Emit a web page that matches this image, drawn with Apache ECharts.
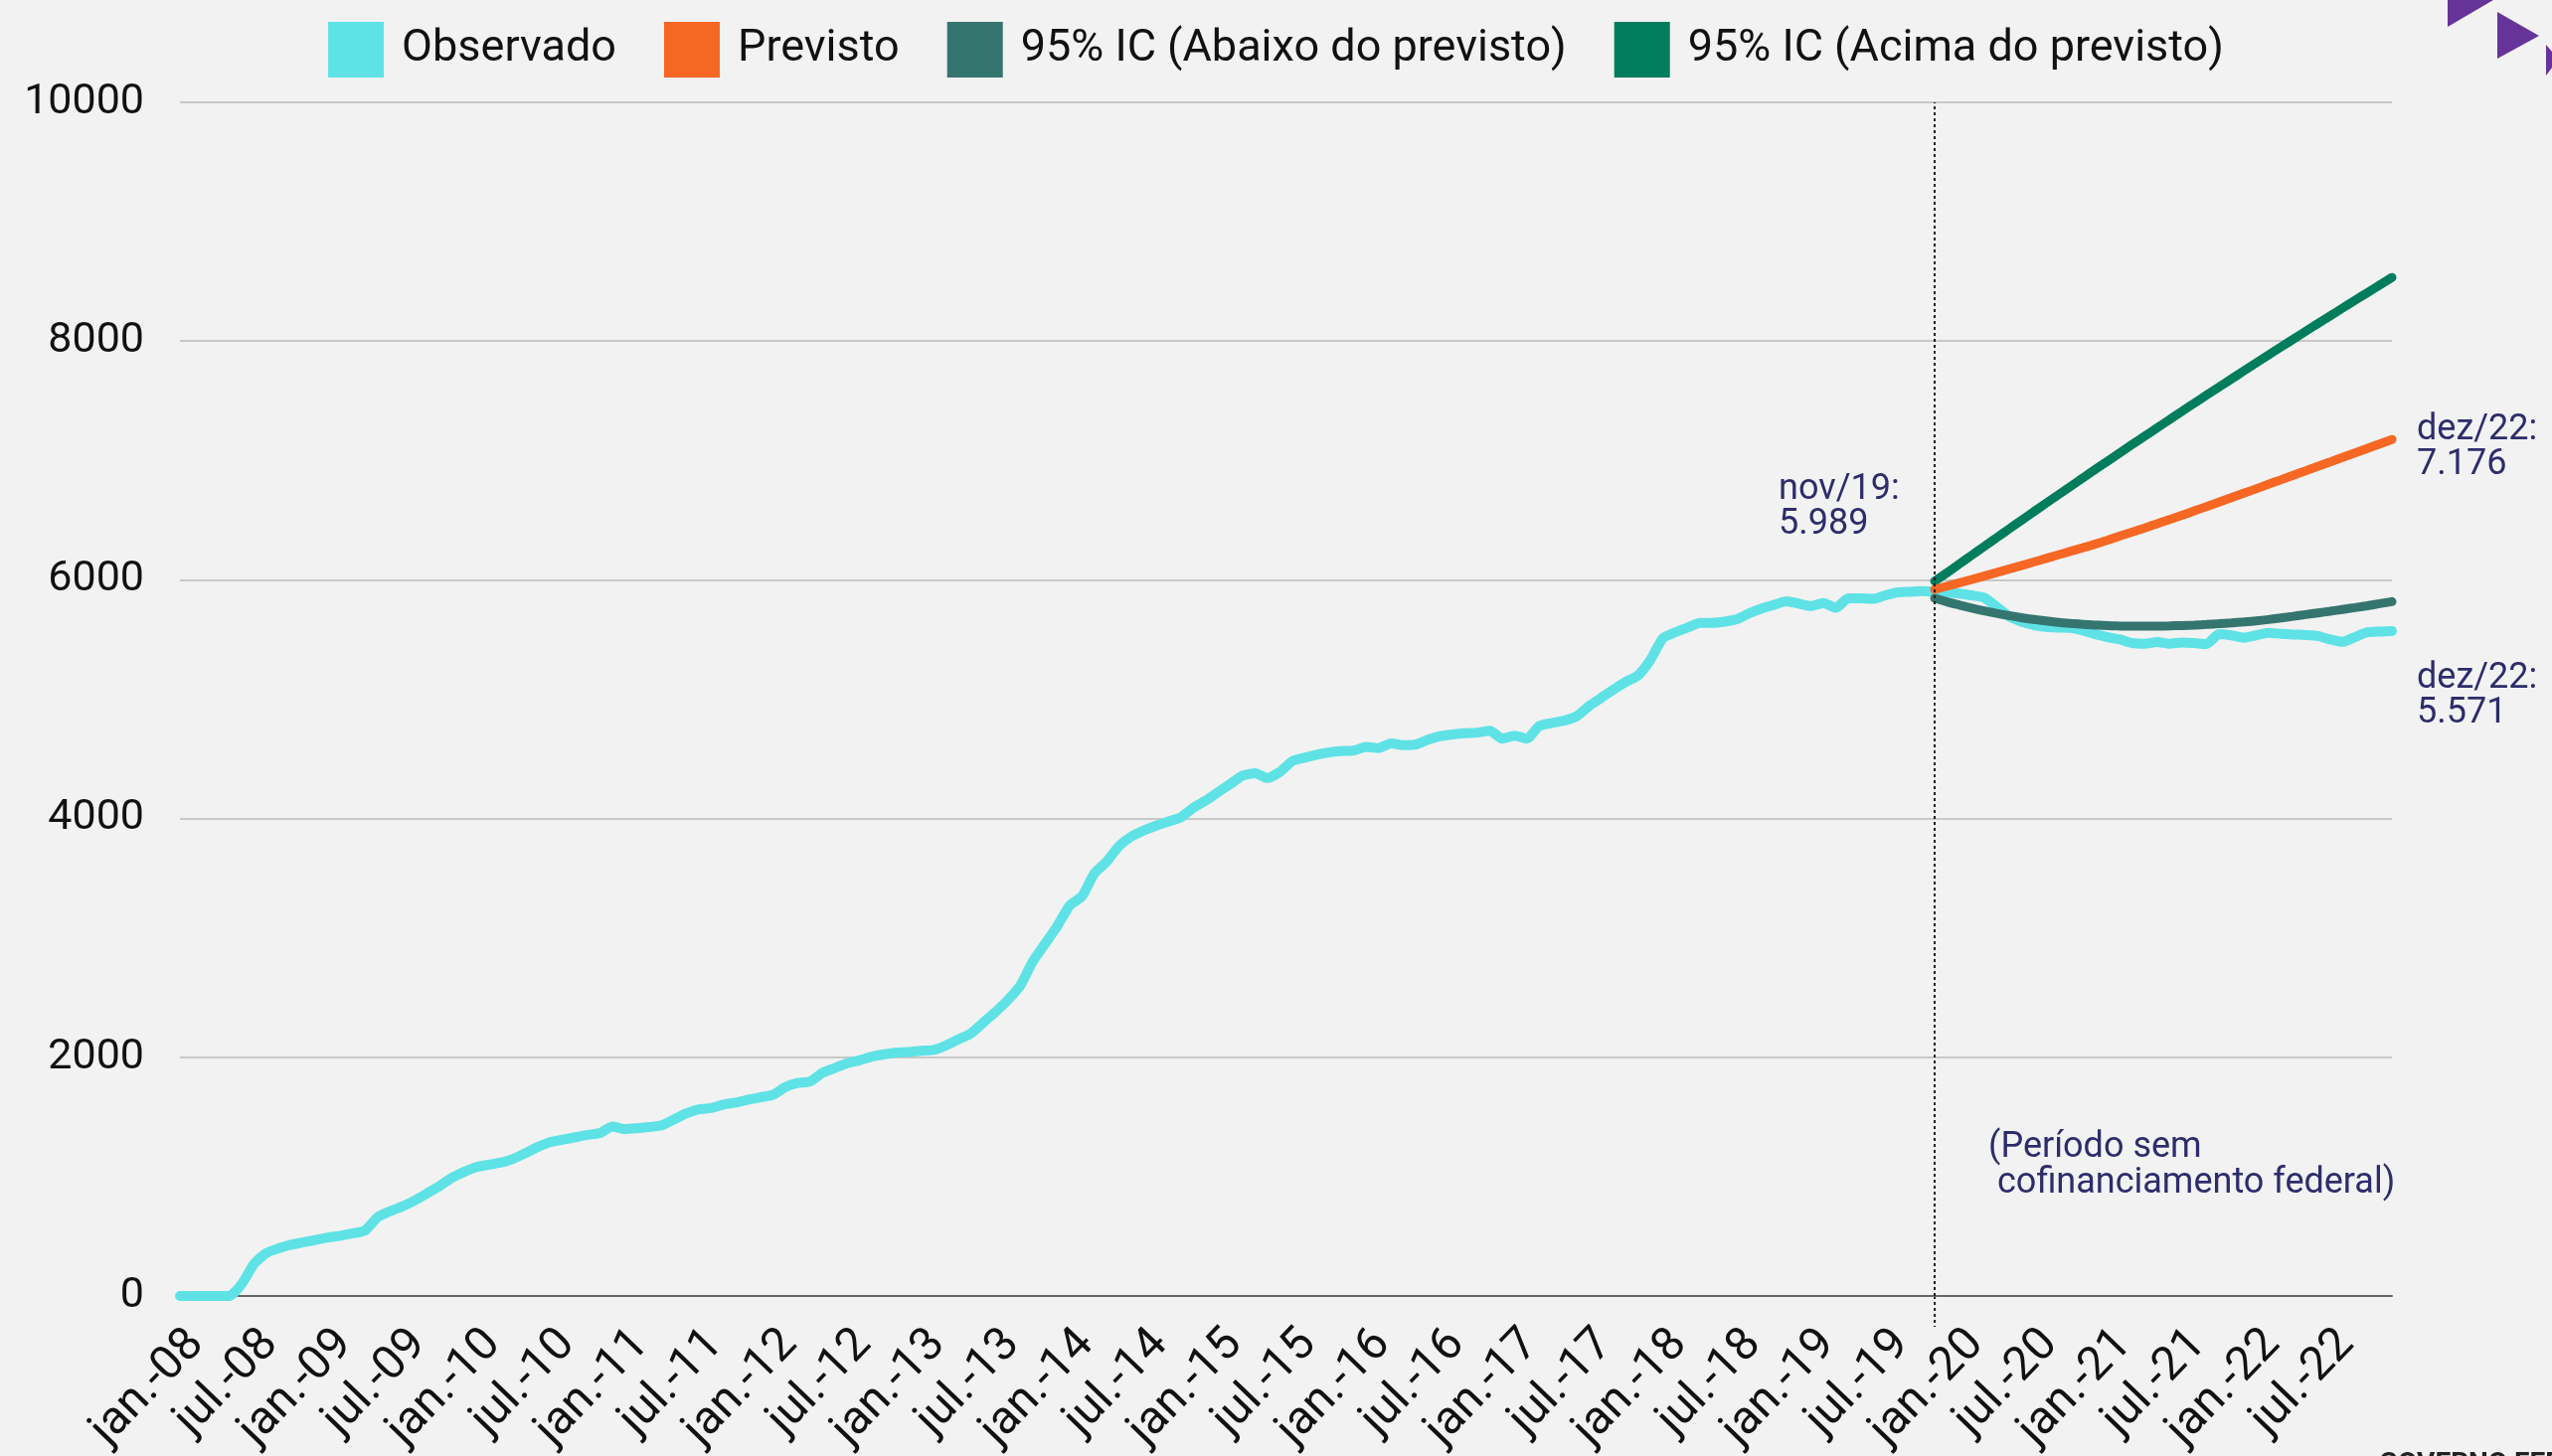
<!DOCTYPE html>
<html>
<head>
<meta charset="utf-8">
<script src="https://cdn.jsdelivr.net/npm/echarts@6/dist/echarts.min.js"></script>
<style>
html,body{margin:0;padding:0;background:#f2f2f2;}
#chart{width:2567px;height:1465px;}
</style>
</head>
<body>
<div id="chart"></div>
<script>
// ---- DATA ----
const monthNames = ['jan.','fev.','mar.','abr.','mai.','jun.','jul.','ago.','set.','out.','nov.','dez.'];
const yearLabels = ['08','09','10','11','12','13','14','15','16','17','18','19','20','21','22'];

const observado = [
  0,0,0,0,0,100,270,360,400,430,450,470,
  490,505,525,550,660,710,750,800,860,920,990,1040,
  1080,1100,1118,1150,1200,1250,1290,1310,1330,1350,1365,1420,
  1398,1405,1415,1430,1480,1530,1565,1575,1604,1620,1645,1665,
  1685,1750,1784,1798,1870,1910,1950,1975,2005,2025,2040,2045,
  2055,2062,2100,2150,2200,2290,2380,2480,2600,2800,2950,3100,
  3270,3350,3540,3640,3770,3850,3900,3940,3975,4010,4090,4150,
  4220,4290,4360,4380,4340,4390,4480,4510,4535,4555,4565,4570,
  4600,4590,4630,4615,4620,4660,4690,4705,4715,4720,4735,4670,
  4695,4670,4775,4800,4820,4855,4940,5010,5080,5145,5200,5330,
  5510,5560,5600,5640,5640,5650,5670,5720,5760,5790,5820,5800,
  5780,5806,5765,5845,5845,5840,5870,5895,5900,5905,5900,5892,
  5885,5870,5850,5775,5695,5650,5622,5606,5600,5597,5575,5545,
  5520,5500,5470,5465,5478,5465,5475,5470,5462,5545,5535,5515,
  5535,5556,5548,5542,5538,5530,5500,5480,5520,5560,5567,5571
];

// forecast series start at nov.-19 (index 142)
const forecastStart = 142;
const previsto = [5920,5947,5975,6003,6032,6061,6090,6119,6149,6179,6209,6239,6269,6300,6333,6367,6401,6435,6470,6505,6540,6577,6614,6651,6688,6725,6762,6800,6837,6875,6912,6950,6987,7025,7063,7100,7138,7176];
const icAcima = [5989,6059,6133,6206,6279,6352,6425,6497,6569,6641,6712,6783,6854,6925,6995,7065,7135,7204,7273,7342,7411,7479,7547,7615,7682,7749,7816,7883,7949,8015,8081,8146,8211,8276,8341,8405,8469,8533];
const icAbaixo = [5845,5815,5788,5763,5740,5719,5700,5683,5668,5655,5644,5635,5627,5621,5616,5613,5611,5611,5612,5614,5617,5621,5626,5632,5639,5647,5656,5667,5680,5694,5709,5723,5737,5752,5767,5783,5800,5817];

const seriesNames = ['Observado','Previsto','95% IC (Abaixo do previsto)','95% IC (Acima do previsto)'];
const yTicks = {min:0, max:10000, interval:2000};

// ---- BUILD ----
const categories = [];
yearLabels.forEach(y => monthNames.forEach(m => categories.push(m + '-' + y)));
function pad(arr){ const out = new Array(forecastStart).fill(null); return out.concat(arr); }
function fmtBR(v){ return String(v).replace(/\B(?=(\d{3})+(?!\d))/g,'.'); }

const FONT = 'Roboto';
const NAVY = '#2d2d6b';
const C_OBS = '#5ee2e6', C_PREV = '#f56723', C_LOW = '#357570', C_UP = '#007d5c';

const chart = echarts.init(document.getElementById('chart'), null, {renderer:'canvas'});
const option = {
  backgroundColor: '#f2f2f2',
  animation: false,
  textStyle: {fontFamily: FONT},
  legend: {
    data: seriesNames,
    top: 17, left: 'center',
    itemWidth: 56, itemHeight: 56, itemGap: 48,
    icon: 'rect',
    textStyle: {fontFamily: FONT, fontSize: 45, color: '#111', padding: [0,0,0,13]}
  },
  grid: {left: 181, right: 161, top: 103, bottom: 161, containLabel: false, outerBoundsMode: 'none'},
  xAxis: {
    type: 'category', data: categories, boundaryGap: false,
    axisLine: {show: true, lineStyle: {color: '#666', width: 2}},
    axisTick: {show: false},
    axisLabel: {interval: 5, rotate: 46, fontSize: 47, margin: 25, verticalAlign: 'top', color: '#111', fontFamily: FONT},
    splitLine: {show: false}
  },
  yAxis: {
    type: 'value', min: yTicks.min, max: yTicks.max, interval: yTicks.interval,
    axisLine: {show: false}, axisTick: {show: false},
    axisLabel: {fontSize: 43, margin: 36, color: '#111', fontFamily: FONT, formatter: v => String(v)},
    splitLine: {lineStyle: {color: '#c8c8c8', width: 2}}
  },
  series: [
    {
      name: seriesNames[0], type: 'line', data: observado, smooth: 0.2,
      showSymbol: false, symbol: 'none', color: C_OBS,
      lineStyle: {width: 10, color: C_OBS, cap: 'round', join: 'round'},
      endLabel: {show: true, formatter: p => 'dez/22:\n' + fmtBR(p.value), color: NAVY,
        fontSize: 36, lineHeight: 35, fontFamily: FONT, distance: 25, offset: [0, 66], align: 'left'},
      markLine: {
        silent: true, symbol: ['none','none'], label: {show: false},
        lineStyle: {color: '#222', width: 2, type: [3,3]},
        data: [{xAxis: forecastStart}]
      },
      z: 2
    },
    {
      name: seriesNames[3], type: 'line', data: pad(icAcima), smooth: true,
      showSymbol: false, symbol: 'none', color: C_UP,
      lineStyle: {width: 9, color: C_UP, cap: 'round'}, z: 3
    },
    {
      name: seriesNames[2], type: 'line', data: pad(icAbaixo), smooth: true,
      showSymbol: false, symbol: 'none', color: C_LOW,
      lineStyle: {width: 9, color: C_LOW, cap: 'round'}, z: 3
    },
    {
      name: seriesNames[1], type: 'line', data: pad(previsto), smooth: true,
      showSymbol: false, symbol: 'none', color: C_PREV,
      lineStyle: {width: 9, color: C_PREV, cap: 'round'},
      endLabel: {show: true, formatter: p => 'dez/22:\n' + fmtBR(p.value), color: NAVY,
        fontSize: 36, lineHeight: 35, fontFamily: FONT, distance: 25, offset: [0, 8], align: 'left'},
      z: 4
    }
  ]
};
chart.setOption(option);

// annotations positioned from the axes
const xStart = chart.convertToPixel({xAxisIndex: 0}, forecastStart);
const y0 = chart.convertToPixel({yAxisIndex: 0}, 0);
const yStartUp = chart.convertToPixel({yAxisIndex: 0}, icAcima[0]);
chart.setOption({
  graphic: [
    {type: 'line', shape: {x1: xStart, y1: y0, x2: xStart, y2: y0 + 31}, style: {stroke: '#222', lineWidth: 2, lineDash: [3,3]}, silent: true},
    {type: 'text', x: xStart - 157, y: yStartUp - 109, style: {text: 'nov/19:\n' + fmtBR(icAcima[0]), fill: NAVY, font: '36px Roboto', lineHeight: 35, textVerticalAlign: 'top'}},
    {type: 'text', x: xStart + 54, y: 1137, style: {text: '(Período sem\n cofinanciamento federal)', fill: NAVY, font: '36px Roboto', lineHeight: 36, textVerticalAlign: 'top'}},
    {type: 'polygon', shape: {points: [[2462,0],[2508,0],[2462,27]]}, style: {fill: '#663399'}, silent: true},
    {type: 'polygon', shape: {points: [[2512,12],[2512,59],[2554,36]]}, style: {fill: '#663399'}, silent: true},
    {type: 'polygon', shape: {points: [[2561,45],[2561,76],[2567,68],[2567,52]]}, style: {fill: '#663399'}, silent: true},
    {type: 'text', x: 2393, y: 1460, style: {text: 'GOVERNO FEDERAL', fill: '#222', font: 'bold 28px Roboto', letterSpacing: 4}}
  ]
});
</script>
</body>
</html>
